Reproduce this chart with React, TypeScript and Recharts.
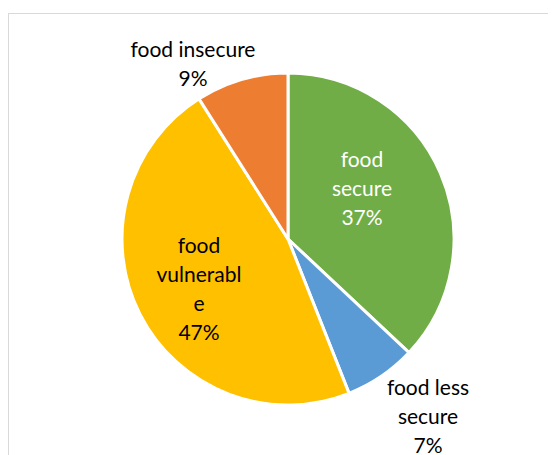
import { PieChart, Pie, Cell } from 'recharts';

const categories = ['food secure', 'food less secure', 'food vulnerable', 'food insecure'];
const shares = [37, 7, 47, 9];
const colors = ['#70AD47', '#5B9BD5', '#FFC000', '#ED7D31'];

// how Excel wrapped each data label
const labelLines = [
  ['food', 'secure'],
  ['food less', 'secure'],
  ['food', 'vulnerabl', 'e'],
  ['food insecure'],
];

// label anchor relative to pie centre: [dx, first baseline dy]
const labelOffsets = [
  [74, -72],
  [140, 156],
  [-89, 14],
  [-95, -182],
];
const labelColors = ['#ffffff', '#000000', '#000000', '#000000'];

const data = categories.map((name, i) => ({ name, value: shares[i] }));

const LINE_H = 29;

const renderLabel = (props: any) => {
  const { cx, cy, index, value } = props;
  const [dx, dy] = labelOffsets[index];
  const lines = [...labelLines[index], `${value}%`];
  return (
    <text
      x={cx + dx}
      y={cy + dy}
      textAnchor="middle"
      fill={labelColors[index]}
      fontSize={21}
      fontFamily="Lato, 'Noto Sans', sans-serif"
    >
      {lines.map((l, k) => (
        <tspan key={k} x={cx + dx} dy={k === 0 ? 0 : LINE_H}>
          {l}
        </tspan>
      ))}
    </text>
  );
};

export default function App() {
  return (
    <div style={{ position: 'relative', width: 540, height: 447, overflow: 'hidden' }}>
      <div
        style={{
          position: 'absolute',
          left: 0,
          top: 5,
          width: 700,
          height: 700,
          borderLeft: '1px solid #d9d9d9',
          borderTop: '1px solid #d9d9d9',
          boxSizing: 'border-box',
        }}
      />
      <div style={{ position: 'absolute', left: 0, top: 0 }}>
        <PieChart width={540} height={447} margin={{ top: 0, right: 0, bottom: 0, left: 0 }}>
          <Pie
            data={data}
            dataKey="value"
            cx={280}
            cy={231}
            outerRadius={166}
            startAngle={90}
            endAngle={-270}
            stroke="#ffffff"
            strokeWidth={3}
            label={renderLabel}
            labelLine={false}
            isAnimationActive={false}
          >
            {data.map((d, i) => (
              <Cell key={d.name} fill={colors[i]} />
            ))}
          </Pie>
        </PieChart>
      </div>
    </div>
  );
}
